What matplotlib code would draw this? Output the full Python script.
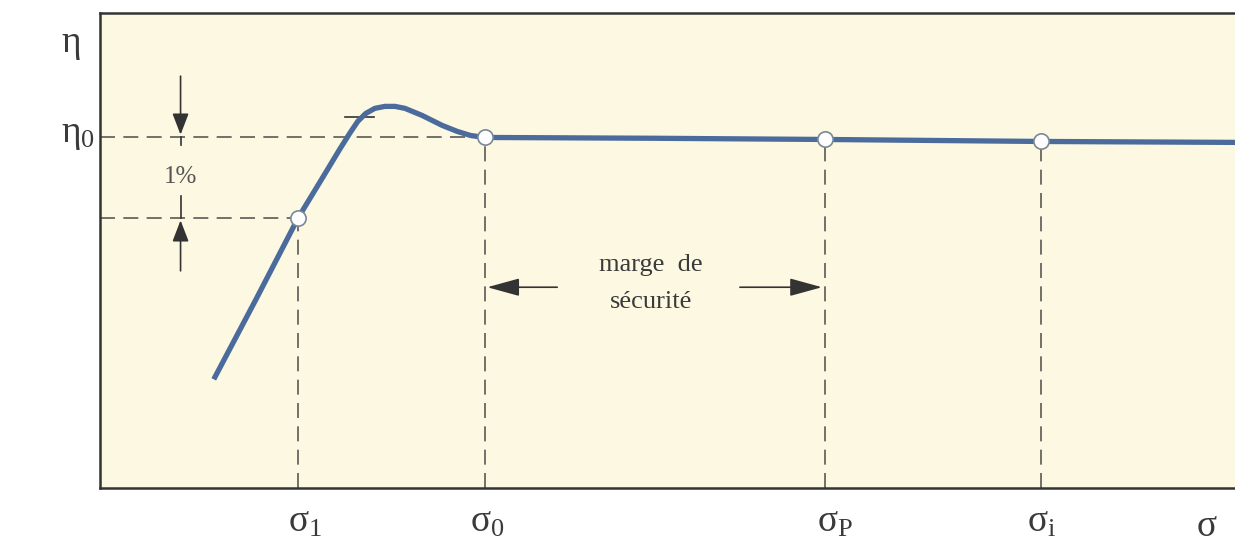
import matplotlib.pyplot as plt

plt.rcParams['mathtext.fontset'] = 'stix'
plt.rcParams['mathtext.default'] = 'regular'
plt.rcParams['font.family'] = ['Liberation Serif', 'DejaVu Serif']

# courbe eta(sigma), valeurs (sigma en unites arbitraires)
sigma = [1.13, 1.55, 1.97, 2.20, 2.38, 2.48, 2.56, 2.64, 2.73, 2.83, 2.93, 3.03, 3.20,
         3.40, 3.55, 3.68, 3.82, 5.5, 7.20, 9.35, 11.35]
eta = [0.9698, 0.9798, 0.9900, 0.99475, 0.9985, 1.0005, 1.0020, 1.0030, 1.00363,
       1.00388, 1.00388, 1.00363, 1.00275, 1.0015, 1.00075, 1.00025, 1.0000, 0.9999,
       0.99975, 0.9995, 0.99938]

# points remarquables
pt_names = [r'$\sigma_1$', r'$\sigma_0$', r'$\sigma_P$', r'$\sigma_i$']
pt_sigma = [1.97, 3.82, 7.20, 9.35]
pt_eta = [0.9900, 1.0000, 0.99975, 0.9995]
eta0 = 1.0
eta1 = 0.99

bg = '#fcf8e2'
line_col = '#4a6b9c'
dash_col = '#5a5a55'
ink = '#3a3a3a'

fig = plt.figure(figsize=(12.35, 5.55), dpi=100)
ax = fig.add_axes([0.081, 0.121, 0.925, 0.855])
ax.set_facecolor(bg)
ax.set_xlim(0, 11.35)
ax.set_ylim(0.95625, 1.0155)

for s in ['top', 'left', 'bottom']:
    ax.spines[s].set_color('#333333')
    ax.spines[s].set_linewidth(1.8)
ax.spines['right'].set_visible(False)
ax.set_xticks([])
ax.set_yticks([])

dash = dict(color=dash_col, lw=1.2, dashes=(9, 5), zorder=2)
# lignes horizontales pointillees
ax.plot([0, pt_sigma[1]], [eta0, eta0], **dash)
ax.plot([0, pt_sigma[0]], [eta1, eta1], **dash)
# lignes verticales pointillees
for s, e in zip(pt_sigma, pt_eta):
    ax.plot([s, s], [0.95625, e], **dash)

ax.plot(sigma, eta, color=line_col, lw=3.8, solid_capstyle='butt',
        solid_joinstyle='round', zorder=3)
ax.plot(pt_sigma, pt_eta, 'o', ms=11, mfc='white', mec='#7a8797', mew=1.2, zorder=4)

# petit trait au sommet
ax.plot([2.43, 2.72], [1.0026, 1.0026], color='#333333', lw=1.2, zorder=2)

# fleches 1%
ahead = dict(arrowstyle='-|>,head_length=1.3,head_width=0.5', color='#333333', lw=1.2)
ax.annotate('', xy=(0.80, eta0), xytext=(0.80, 1.0080), arrowprops=ahead)
ax.plot([0.80, 0.80], [eta0, 0.9990], color='#333333', lw=1.2)
ax.annotate('', xy=(0.80, eta1), xytext=(0.80, 0.9830), arrowprops=ahead)
ax.plot([0.80, 0.80], [eta1, 0.9927], color='#333333', lw=1.2)
ax.text(0.80, 0.9951, '1%', ha='center', va='center', fontsize=18, color='#555555')

# marge de securite
y_m = 0.9813
mhead = dict(arrowstyle='-|>,head_length=2.0,head_width=0.55', color='#333333', lw=1.2)
ax.annotate('', xy=(pt_sigma[1], y_m), xytext=(4.57, y_m), arrowprops=mhead)
ax.annotate('', xy=(pt_sigma[2], y_m), xytext=(6.33, y_m), arrowprops=mhead)
ax.text(5.47, 0.9841, 'marge  de', ha='center', va='center', fontsize=19, color=ink)
ax.text(5.47, 0.9795, 'sécurité', ha='center', va='center', fontsize=19, color=ink)

# etiquettes
fig.text(71 / 1235, 1 - 45 / 555, r'$\eta$', fontsize=27, ha='center', va='center', color=ink)
fig.text(78 / 1235, 1 - 135 / 555, r'$\eta_0$', fontsize=27, ha='center', va='center', color=ink)
px = [305, 487, 835, 1042]
for name, x in zip(pt_names, px):
    fig.text(x / 1235, 1 - 522 / 555, name, fontsize=27, ha='center', va='center', color=ink)
fig.text(1207 / 1235, 1 - 527 / 555, r'$\sigma$', fontsize=27, ha='center', va='center', color=ink)

fig.savefig('out.png', dpi=100, facecolor='white')
